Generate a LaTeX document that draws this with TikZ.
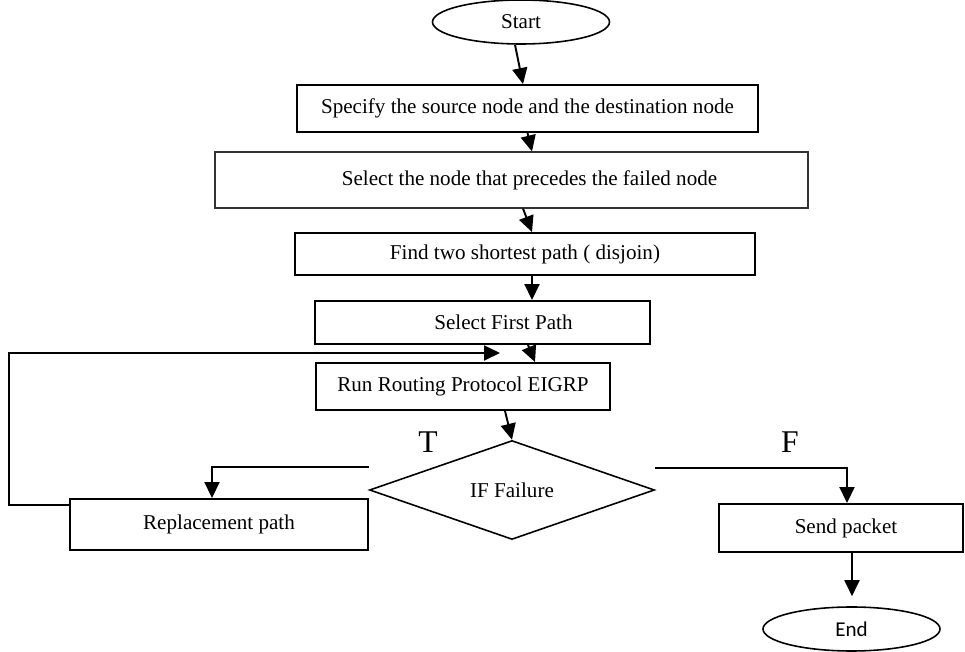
\documentclass[tikz,border=0pt]{standalone}
\usepackage{fontspec}
\setmainfont{Liberation Serif}
\newfontfamily\endfont{Carlito}
\usetikzlibrary{shapes.geometric,arrows.meta,calc}

\tikzset{
  box/.style={draw, line width=1.1pt, inner sep=0pt, font=\fontsize{12}{14}\selectfont},
  oval/.style={draw, ellipse, line width=0.9pt, minimum width=3.54cm, minimum height=0.88cm, inner sep=0pt, font=\fontsize{12}{14}\selectfont},
  decision/.style={draw, diamond, line width=0.9pt, minimum width=5.7cm, minimum height=1.98cm, inner sep=0pt, font=\fontsize{12}{14}\selectfont},
  arr/.style={line width=1.1pt, -{Triangle[length=0.32cm,width=0.3cm]}},
  branch/.style={font=\fontsize{18}{20}\selectfont}
}

\begin{document}
\begin{tikzpicture}
\useasboundingbox (0,0) rectangle (19.3,13.04);

% steps
\node[oval] (start) at (10.42,12.6) {Start};
\node[box, minimum width=9.22cm, minimum height=0.94cm] (spec) at (10.55,10.87) {Specify the source node and the destination node};
\node[box, line width=0.7pt, draw=black!80, minimum width=11.86cm, minimum height=1.12cm] (sel) at (10.23,9.44) {\hspace*{0.72cm}Select the node that precedes the failed node};
\node[box, minimum width=9.2cm, minimum height=0.84cm] (find) at (10.5,7.96) {Find two shortest path ( disjoin)};
\node[box, minimum width=6.7cm, minimum height=0.86cm] (first) at (9.65,6.59) {\hspace*{0.84cm}Select First Path};
\node[box, minimum width=5.88cm, minimum height=0.94cm] (run) at (9.26,5.31) {Run Routing Protocol EIGRP};
\node[decision] (dia) at (10.24,3.24) {IF Failure};
\node[box, minimum width=5.96cm, minimum height=1.02cm] (repl) at (4.38,2.55) {Replacement path};
\node[box, minimum width=4.88cm, minimum height=0.96cm] (send) at (16.82,2.48) {\hspace*{0.2cm}Send packet};
\node[oval, font=\endfont\fontsize{12}{14}\selectfont] (end) at (17.03,0.46) {End};

% branch labels
\node[branch] (t) at (8.56,4.2) {T};
\node[branch] (f) at (15.8,4.2) {F};

\coordinate (loop) at (10.0,5.98);

% arrows
\draw[arr] ($(start.south)+(-0.12,0)$) -- ($(spec.north)+(-0.09,0)$);
\draw[arr] (spec.south) -- ($(sel.north)+(0.41,0)$);
\draw[arr] ($(sel.south)+(0.23,0)$) -- ($(find.north)+(0.14,0)$);
\draw[arr] ($(find.south)+(0.14,0)$) -- ($(find.south |- first.north)+(0.14,0)$);
\draw[arr] ($(first.south)+(0.91,0)$) -- ($(run.north)+(1.44,0)$);
\draw[arr] ($(run.south)+(0.84,0)$) -- (dia.north);
\draw[arr] ($(dia.west)+(0,0.46)$) -| ($(repl.north)+(-0.14,0)$);
\draw[arr] ($(dia.east)+(0,0.44)$) -| ($(send.north)+(0.12,0)$);
\draw[arr] ($(send.south)+(0.22,0)$) -- ($(send.south |- end.north)+(0.22,0.2)$);
\draw[arr] ($(repl.north west)+(0,-0.14)$) -- ++(-1.2,0) |- (loop);

\end{tikzpicture}
\end{document}
